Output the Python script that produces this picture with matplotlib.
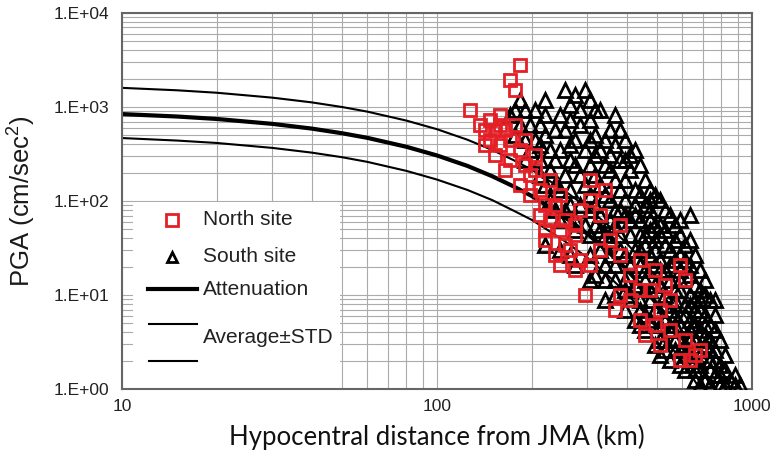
import numpy as np
import matplotlib
matplotlib.use("Agg")
import matplotlib.pyplot as plt
from matplotlib.patches import Rectangle
from matplotlib.ticker import FuncFormatter, NullFormatter, LogLocator

plt.rcParams['font.family'] = ['Liberation Sans', 'DejaVu Sans']
plt.rcParams['mathtext.fontset'] = 'custom'
plt.rcParams['mathtext.rm'] = 'Liberation Sans'

# North site (red squares): hypocentral distance (km), PGA (cm/s2)
north_km = [183, 170, 177, 127, 147, 158, 153, 142, 164, 147, 158, 142, 153, 170, 170,
            164, 183, 190, 197, 205, 183, 197, 212, 220, 212, 228, 237, 246, 220, 255,
            264, 274, 237, 246, 284, 220, 274, 306, 329, 295, 381, 410, 367, 441, 457,
            492, 510, 590, 635, 683, 590, 612, 549, 441, 255, 274, 284, 306, 329, 354,
            381, 410, 474, 510, 549, 612, 658, 137, 158, 177, 190, 205, 228, 246, 306,
            341, 381, 441, 492, 529]
north_pga = [2798, 1937, 1516, 929, 727, 822, 569, 569, 569, 445, 394, 394, 308, 445, 273,
             214, 349, 241, 189, 214, 148, 116, 131, 91, 71, 63, 91, 49, 38.5, 34,
             30, 43.5, 26.6, 20.8, 23.6, 49, 18.4, 20.8, 30, 10, 10, 8.85, 6.93, 5.42, 3.76,
             4.8, 2.94, 2.03, 2.03, 2.6, 20.8, 14.4, 8.85, 11.3, 63, 55.5, 80, 102, 71, 38.5,
             26.6, 16.3, 11.3, 6.93, 4.24, 3.32, 2.3, 643, 643, 643, 445, 308, 167, 116, 167,
             131, 55.5, 23.6, 18.4, 12.8]

# South site (black triangles)
south_km = [177, 190, 205, 183, 197, 212, 190, 205, 220, 228, 197, 177,
            255, 295, 264, 306, 284, 246, 264, 237, 306, 329, 317, 354, 274, 295, 246, 329,
            367, 395, 425, 381, 341, 306, 274, 255, 228, 237, 264, 295, 329, 367, 410, 441,
            457, 425, 395, 354, 317, 284, 255, 228,
            220, 246, 264, 274, 306, 317, 306, 341, 367, 410, 381, 354, 329, 295, 274, 410,
            441, 474, 492, 510, 549, 590, 635, 529, 492, 529, 569, 612, 635, 658, 635, 590,
            549, 510, 474, 441, 457, 425, 395, 367, 341, 441, 474, 510, 549, 590, 635, 683,
            735, 762, 708, 658, 612, 569, 529, 492, 457, 425, 457, 510, 492, 549, 590, 635,
            683, 735, 790, 762, 708, 658, 612, 569, 549, 590, 635, 683, 735, 790, 820, 762,
            708, 658, 683, 735, 790, 850, 882, 915, 820,
            381, 395, 425, 441, 474, 457, 492, 381, 354, 425, 492, 529, 569, 612, 683, 708,
            683, 635, 708, 762, 474, 510, 529, 590, 635, 683, 735, 569, 612, 658, 395,
            183, 220, 274, 170, 220, 367, 317, 255, 284, 381,
            212, 264, 306, 341, 410, 190, 212, 237, 264, 317, 354, 395,
            212, 284, 317, 354, 395, 474, 220, 246, 306, 341, 441, 474,
            237, 264, 306, 329, 367, 425, 457, 529, 246, 274, 317, 367, 410, 474, 510, 569,
            306, 341, 381, 457, 510, 590, 329, 354, 395, 492, 549, 590,
            367, 441, 510, 635, 341, 395, 457, 492, 590, 658,
            410, 474, 529, 569, 708, 441, 549, 635, 683, 762,
            441, 529, 569, 658, 708, 529, 569, 635, 735,
            510, 612, 658, 762, 820, 612, 658, 735, 790, 882]
south_pga = [929, 929, 929, 643, 643, 643, 445, 445, 503, 349, 349, 503,
             1516, 1516, 1050, 1187, 929, 822, 727, 569, 727, 929, 503, 569, 445, 349, 349, 349,
             394, 445, 349, 273, 241, 241, 241, 189, 214, 148, 131, 148, 148, 167, 214, 241,
             167, 131, 102, 102, 91, 91, 80, 102,
             34, 30, 26.6, 20.8, 26.6, 16.3, 14.4, 20.8, 14.4, 20.8, 30, 38.5, 49, 55.5, 49, 43.5,
             63, 80, 116, 102, 71, 63, 71, 49, 38.5, 34, 38.5, 34, 38.5, 26.6, 16.3, 18.4,
             20.8, 23.6, 26.6, 30, 18.4, 12.8, 11.3, 10, 8.85, 8.85, 11.3, 12.8, 14.4, 11.3, 10, 11.3,
             8.85, 8.85, 6.13, 6.93, 7.83, 8.85, 7.83, 6.93, 6.13, 5.42, 4.24, 3.32, 2.94, 4.24, 4.8, 5.42,
             4.24, 4.8, 3.32, 2.6, 2.94, 3.32, 2.94, 2.6, 2.03, 1.8, 2.03, 1.8, 2.03, 1.8, 1.59, 1.41,
             1.25, 1.25, 1.1, 1.1, 1.1, 1.25, 1.1, 1.1, 1.1,
             131, 71, 91, 43.5, 49, 34, 55.5, 80, 63, 30, 20.8, 18.4, 23.6, 23.6, 18.4, 14.4,
             8.85, 4.24, 3.76, 4.24, 5.42, 4.8, 2.6, 2.6, 2.6, 2.3, 2.6, 6.13, 6.13, 8.85, 6.93,
             1187, 1187, 1341, 822, 822, 822, 929, 569, 643, 569,
             394, 394, 445, 445, 308, 273, 273, 273, 273, 308, 308, 273,
             189, 189, 189, 214, 167, 131, 148, 131, 116, 116, 116, 102,
             80, 91, 80, 71, 80, 71, 91, 80, 63, 63, 55.5, 55.5, 63, 63, 55.5, 55.5,
             43.5, 43.5, 43.5, 43.5, 43.5, 43.5, 30, 26.6, 26.6, 30, 30, 26.6,
             20.8, 20.8, 18.4, 20.8, 14.4, 14.4, 14.4, 12.8, 14.4, 12.8,
             10, 8.85, 10, 11.3, 10, 6.93, 6.93, 7.83, 6.93, 6.13,
             4.8, 5.42, 4.8, 4.8, 4.8, 3.32, 3.32, 3.32, 3.32,
             2.3, 2.3, 2.03, 2.03, 2.3, 1.59, 1.59, 1.59, 1.41, 1.41]

# Attenuation relation and average +/- STD
att_km = [10, 15, 20, 30, 40, 50, 60, 80, 100, 125, 150, 175, 200, 250, 300, 350,
          400, 450, 500, 550, 600, 650, 700, 750, 800]
att_pga = [840, 791, 745, 661, 589, 525, 470, 377, 305, 236, 183, 143, 113, 70.6, 44.9,
           28.8, 18.7, 12.2, 8.0, 5.3, 3.53, 2.36, 1.58, 1.06, 0.71]
upper_km = [10, 15, 20, 30, 40, 50, 60, 80, 100, 125, 150, 175, 200, 250, 300, 350,
            400, 450, 500, 550, 600, 650, 700, 750, 800, 850]
upper_pga = [1596, 1503, 1416, 1256, 1119, 998, 893, 716, 580, 448, 348, 272, 215, 134,
             85, 55, 35.5, 23.2, 15.2, 10.1, 6.7, 4.5, 3.0, 2.0, 1.35, 0.92]
lower_km = [10, 15, 20, 30, 40, 50, 60, 80, 100, 125, 150, 175, 200, 250, 300, 350,
            400, 450, 500, 550, 600, 650, 700]
lower_pga = [467, 439, 414, 367, 327, 292, 261, 209, 169, 131, 102, 79, 63, 39, 25, 16,
             10.4, 6.8, 4.4, 2.9, 1.96, 1.31, 0.88]

fig = plt.figure(figsize=(7.72, 4.61), dpi=100)
ax = fig.add_axes([0.158, 0.156, 0.816, 0.816])

ax.plot(att_km, att_pga, color='black', lw=3, zorder=2)
ax.plot(upper_km, upper_pga, color='black', lw=1.5, zorder=2)
ax.plot(lower_km, lower_pga, color='black', lw=1.5, zorder=2)
ax.plot(south_km, south_pga, '^', ms=9.5, mfc='none', mec='black', mew=2, zorder=3)
ax.plot(north_km, north_pga, 's', ms=8, mfc='none', mec='#e41f26', mew=2, zorder=4)

ax.set_xscale('log')
ax.set_yscale('log')
ax.set_xlim(10, 1000)
ax.set_ylim(1, 1e4)
ax.xaxis.set_minor_locator(LogLocator(subs=np.arange(2, 10)))
ax.yaxis.set_minor_locator(LogLocator(subs=np.arange(2, 10)))
ax.xaxis.set_minor_formatter(NullFormatter())
ax.yaxis.set_minor_formatter(NullFormatter())
ax.xaxis.set_major_formatter(FuncFormatter(lambda v, p: '%d' % round(v)))
ax.yaxis.set_major_formatter(FuncFormatter(lambda v, p: '1.E+%02d' % round(np.log10(v))))
ax.grid(True, which='both', color='#ababab', lw=0.8)
ax.set_axisbelow(True)
ax.tick_params(which='both', length=0, labelsize=12.5, colors='#222222')
ax.tick_params(axis='y', pad=9)
ax.tick_params(axis='x', pad=7)
for s in ax.spines.values():
    s.set_color('#666666')
    s.set_linewidth(1.5)

ax.set_ylabel('PGA (cm/sec$^2$)', fontsize=18.5, color='#1a1a1a', labelpad=12)
ax.set_xlabel('Hypocentral distance from JMA (km)', fontsize=18.5, family='Lato',
              color='#111111', labelpad=7)

# legend (drawn by hand: white box without frame)
ax.add_patch(Rectangle((0.0175, 0), 0.329, 0.497, transform=ax.transAxes,
                       fc='white', ec='none', zorder=1))
ax.plot([0.0794], [0.450], 's', ms=8, mfc='none', mec='#e41f26', mew=2,
        transform=ax.transAxes, zorder=5)
ax.plot([0.0794], [0.352], '^', ms=7, mfc='none', mec='black', mew=2,
        transform=ax.transAxes, zorder=5)
ax.plot([0.041, 0.119], [0.266, 0.266], color='black', lw=3, transform=ax.transAxes, zorder=5)
ax.plot([0.043, 0.119], [0.173, 0.173], color='black', lw=1.5, transform=ax.transAxes, zorder=5)
ax.plot([0.043, 0.119], [0.074, 0.074], color='black', lw=1.5, transform=ax.transAxes, zorder=5)
for ty, lab in [(0.450, 'North site'), (0.352, 'South site'),
                (0.266, 'Attenuation'), (0.138, 'Average\u00b1STD')]:
    ax.text(0.129, ty, lab, fontsize=15, color='#222222', va='center',
            transform=ax.transAxes, zorder=6)

fig.savefig('out.png', dpi=100)
